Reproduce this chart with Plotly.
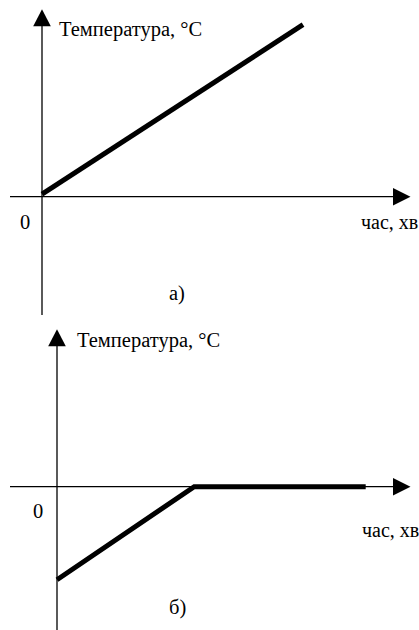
import plotly.graph_objects as go

# ---------------- data (schematic, arbitrary units) ----------------
time_a = [0, 10]          # panel а): temperature rises linearly
temp_a = [0.15, 10]
time_b = [0, 4, 9]        # panel б): rises from below zero, then stays at 0
temp_b = [-5, 0, 0]

y_label = "Температура, °C"
x_label = "час, хв"
zero_label = "0"
panel_labels = ["а)", "б)"]

# ---------------- geometry (pixels) ----------------
W, H = 419, 630
FONT = "Liberation Serif"
FS = 20.5

panels = [
    # origin px, px-per-unit x, px-per-unit y, region top, region bottom
    dict(ox=42.0, oy=196.7, sx=26.1, sy=17.2, top=0, bottom=315,
         y_tip=9.3, y_axis_end=315, zero=(24.5, 222), xlab=(359, 222),
         ylab=(57, 29), plab=(177, 293)),
    dict(ox=57.0, oy=486.7, sx=34.3, sy=18.6, top=315, bottom=630,
         y_tip=329.3, y_axis_end=630, zero=(37.5, 511), xlab=(360, 530),
         ylab=(75, 340), plab=(177, 607)),
]

def px(x):
    return x / W

def py(y):
    return 1 - y / H

fig = go.Figure()
fig.add_trace(go.Scatter(x=time_a, y=temp_a, mode="lines",
                         line=dict(color="black", width=5),
                         xaxis="x", yaxis="y", showlegend=False, hoverinfo="skip"))
fig.add_trace(go.Scatter(x=time_b, y=temp_b, mode="lines",
                         line=dict(color="black", width=5),
                         xaxis="x2", yaxis="y2", showlegend=False, hoverinfo="skip"))

layout_axes = {}
shapes = []
annotations = []
for i, p in enumerate(panels):
    sfx = "" if i == 0 else "2"
    xr = [-p["ox"] / p["sx"], (W - p["ox"]) / p["sx"]]
    yr = [-(p["bottom"] - p["oy"]) / p["sy"], (p["oy"] - p["top"]) / p["sy"]]
    common = dict(visible=False, showgrid=False, zeroline=False, fixedrange=True)
    layout_axes["xaxis" + sfx] = dict(range=xr, domain=[0, 1],
                                      anchor="y" + sfx, **common)
    layout_axes["yaxis" + sfx] = dict(range=yr,
                                      domain=[1 - p["bottom"] / H, 1 - p["top"] / H],
                                      anchor="x" + sfx, **common)
    ox, oy = p["ox"], p["oy"]
    # horizontal axis line
    shapes.append(dict(type="line", xref="paper", yref="paper",
                       x0=px(10), x1=px(396), y0=py(oy), y1=py(oy),
                       line=dict(color="black", width=1.3)))
    # vertical axis line
    shapes.append(dict(type="line", xref="paper", yref="paper",
                       x0=px(ox), x1=px(ox), y0=py(p["y_axis_end"]), y1=py(p["y_tip"] + 14),
                       line=dict(color="black", width=1.3)))
    # arrowheads
    tip_x, base_x, hh = 410.5, 393.0, 8.7
    shapes.append(dict(type="path", xref="paper", yref="paper",
                       path=f"M {px(tip_x)},{py(oy)} L {px(base_x)},{py(oy - hh)} "
                            f"L {px(base_x)},{py(oy + hh)} Z",
                       fillcolor="black", line=dict(color="black", width=0)))
    tip_y = p["y_tip"]
    base_y = tip_y + 17
    hw = 8.8
    shapes.append(dict(type="path", xref="paper", yref="paper",
                       path=f"M {px(ox)},{py(tip_y)} L {px(ox - hw)},{py(base_y)} "
                            f"L {px(ox + hw)},{py(base_y)} Z",
                       fillcolor="black", line=dict(color="black", width=0)))
    # texts
    annotations.append(dict(text=y_label, xref="paper", yref="paper",
                            x=px(p["ylab"][0]), y=py(p["ylab"][1]),
                            xanchor="left", yanchor="middle", showarrow=False,
                            font=dict(family=FONT, size=FS, color="black")))
    annotations.append(dict(text=x_label, xref="paper", yref="paper",
                            x=px(p["xlab"][0]), y=py(p["xlab"][1]),
                            xanchor="left", yanchor="middle", showarrow=False,
                            font=dict(family=FONT, size=FS - 0.5, color="black")))
    annotations.append(dict(text=zero_label, xref="paper", yref="paper",
                            x=px(p["zero"][0]), y=py(p["zero"][1]),
                            xanchor="center", yanchor="middle", showarrow=False,
                            font=dict(family=FONT, size=FS, color="black")))
    annotations.append(dict(text=panel_labels[i], xref="paper", yref="paper",
                            x=px(p["plab"][0]), y=py(p["plab"][1]),
                            xanchor="center", yanchor="middle", showarrow=False,
                            font=dict(family=FONT, size=FS, color="black")))

fig.update_layout(
    width=W, height=H, autosize=False,
    margin=dict(l=0, r=0, t=0, b=0),
    paper_bgcolor="white", plot_bgcolor="rgba(0,0,0,0)",
    font=dict(family=FONT, size=FS, color="black"),
    shapes=shapes, annotations=annotations, showlegend=False,
    **layout_axes,
)

fig.write_html(
    "out.html",
    config={"displayModeBar": False},
    post_script="document.body.style.margin='0';document.body.style.overflow='hidden';",
)
